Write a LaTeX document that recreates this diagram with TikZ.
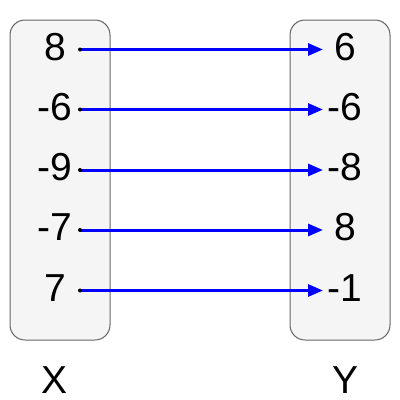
\documentclass[tikz,border=0pt]{standalone}
\usepackage{fontspec}
\setmainfont{Liberation Sans}
\usetikzlibrary{arrows.meta}
\definecolor{boxgray}{HTML}{666666}
\definecolor{boxfill}{HTML}{F5F5F5}
\definecolor{mapblue}{HTML}{0000FF}
\begin{document}
\begin{tikzpicture}[x=1pt,y=-1pt,
  setbox/.style={draw=boxgray, fill=boxfill, line width=1pt, rounded corners=15pt, minimum width=100pt, minimum height=320pt, inner sep=0pt},
  num/.style={inner sep=0pt, font=\fontsize{39}{47}\selectfont},
  maparrow/.style={draw=mapblue, line width=3pt, -{Triangle[length=15pt,width=12pt]}},
  startdot/.style={circle, fill=black, inner sep=0pt, minimum size=4pt}]
\useasboundingbox (0,0) rectangle (400,400);
\node[setbox] (setX) at (60,180) {};
\node[setbox] (setY) at (340,180) {};
% left values
\node[num] (l1) at (55,47) {8};
\node[num] (l2) at (55,107) {-6};
\node[num] (l3) at (55,167.5) {-9};
\node[num] (l4) at (55,227.5) {-7};
\node[num] (l5) at (55,288) {7};
% right values
\node[num] (r1) at (345,47) {6};
\node[num] (r2) at (345,107) {-6};
\node[num] (r3) at (345,167.5) {-8};
\node[num] (r4) at (345,227.5) {8};
\node[num] (r5) at (345,288) {-1};
% arrow ends
\coordinate (s1) at (80,49.5);   \coordinate (e1) at (323,49.5);
\coordinate (s2) at (80,109.5);  \coordinate (e2) at (323,109.5);
\coordinate (s3) at (80,170);    \coordinate (e3) at (323,170);
\coordinate (s4) at (80,230);    \coordinate (e4) at (323,230);
\coordinate (s5) at (80,290.5);  \coordinate (e5) at (323,290.5);
\foreach \i in {1,...,5}{
  \draw[maparrow] (s\i) -- (e\i);
  \node[startdot] at (s\i) {};
}
% set labels
\node[num] (labX) at (55,380) {X};
\node[num] (labY) at (345.5,380) {Y};
\end{tikzpicture}
\end{document}
